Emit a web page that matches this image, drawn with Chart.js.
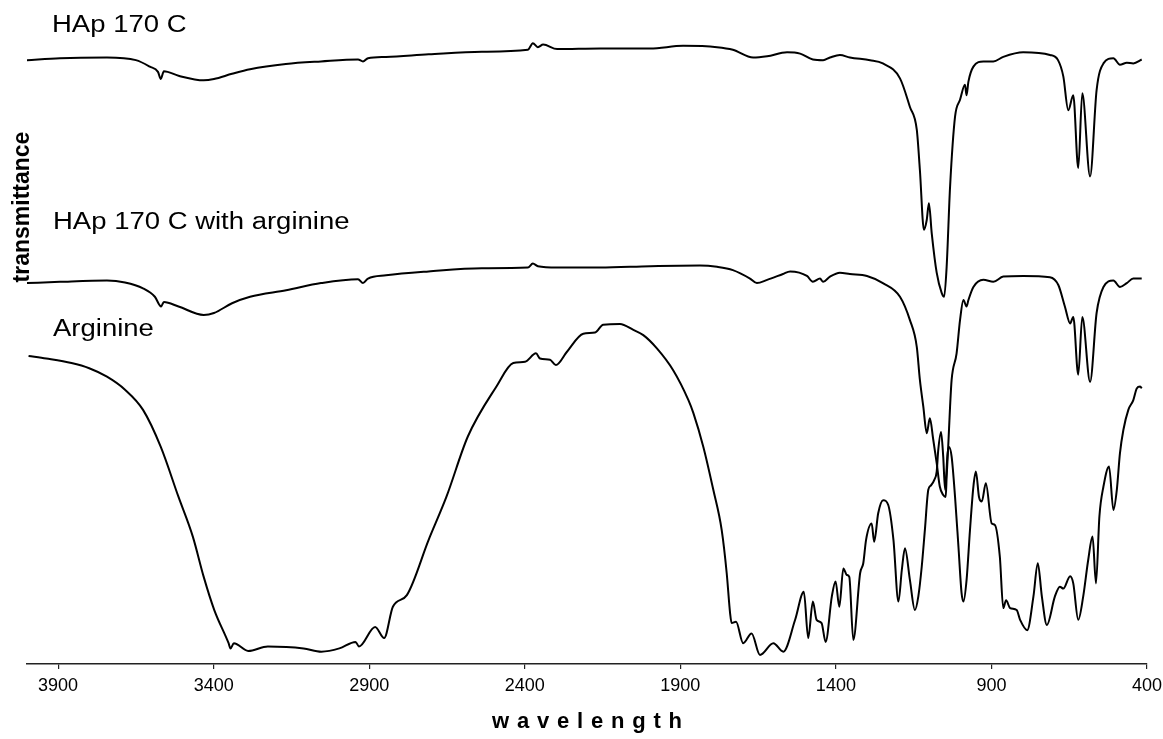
<!DOCTYPE html>
<html>
<head>
<meta charset="utf-8">
<script src="https://cdn.jsdelivr.net/npm/chart.js@4.4.1/dist/chart.umd.min.js"></script>
<style>
  html, body { margin: 0; padding: 0; background: #fff; }
  canvas { display: block; }
</style>
</head>
<body>
<canvas id="c" width="1163" height="739"></canvas>
<script>
// ---- data (wavenumber, transmittance in arbitrary offset units) ----
const seriesNames = ['HAp 170 C', 'HAp 170 C with arginine', 'Arginine'];
const tickValues = [3900, 3400, 2900, 2400, 1900, 1400, 900, 400];

const hap170Wn = [4000,3894,3743,3650,3605,3579,3570,3560,3513,3432,3399,3341,3283,3168,3055,2936,2920,2904,2846,2709,2538,2390,2374,2358,2341,2296,2158,1997,1891,1782,1731,1666,1621,1557,1515,1474,1441,1419,1387,1355,1290,1249,1194,1162,1140,1130,1117,1108,1101,1092,1076,1060,1052,1044,1033,1017,1001,985,980,974,958,926,894,862,798,712,686,669,653,637,621,608,583,562,540,508,487,465,444,417];
const hap170T = [92.9,93.2,93.3,92.9,91.9,91.1,90.0,91.2,90.5,89.8,90.0,90.8,91.5,92.3,92.7,93.0,92.7,93.2,93.4,93.8,94.2,94.5,95.5,94.9,95.3,94.6,94.7,94.7,95.1,94.9,94.5,93.3,93.5,94.1,93.9,93.0,92.9,93.3,93.7,93.3,92.9,92.4,90.1,85.7,82.2,76.0,66.8,68.3,70.9,66.3,60.2,57.1,56.5,61.1,73.4,84.2,86.8,89.1,87.5,89.6,91.9,92.7,92.7,93.4,94.1,93.7,92.9,90.4,85.2,87.5,76.3,87.8,75.0,88.3,92.4,93.2,92.2,92.5,92.4,93.0];

const hapArgWn = [4000,3894,3743,3685,3627,3589,3569,3560,3513,3432,3399,3341,3283,3167,3055,2936,2920,2904,2846,2709,2538,2390,2374,2358,2296,2158,1997,1837,1782,1731,1676,1654,1621,1570,1547,1493,1474,1451,1441,1419,1387,1355,1300,1249,1194,1162,1140,1130,1119,1108,1098,1087,1076,1066,1055,1047,1044,1039,1033,1028,1012,1001,990,980,974,958,926,894,862,798,712,685,664,647,637,621,608,583,562,540,508,487,465,444,417];
const hapArgT = [58.6,58.8,59.0,58.7,57.8,56.5,55.0,55.7,55.0,53.7,54.0,55.5,56.5,57.5,58.6,59.2,58.6,59.3,59.8,60.4,60.9,61.0,61.6,61.2,61.0,61.0,61.2,61.3,61.1,60.6,59.3,58.6,59.1,60.0,60.4,59.7,58.8,59.3,58.8,59.6,60.2,60.0,59.7,58.6,56.5,52.9,48.8,43.7,39.6,35.5,37.8,34.5,30.9,27.3,26.0,25.7,28.8,33.4,39.6,43.7,47.8,52.9,56.0,55.0,56.0,58.0,59.1,58.8,59.6,59.7,59.5,58.3,55.0,52.4,53.4,44.5,53.4,43.4,54.0,58.0,59.0,58.0,58.6,59.3,59.3];

const argWn = [3995,3938,3857,3800,3743,3685,3627,3570,3513,3467,3432,3398,3352,3346,3335,3289,3226,3111,3054,2996,2944,2933,2881,2852,2824,2779,2709,2652,2583,2491,2437,2399,2364,2351,2319,2300,2265,2212,2174,2148,2094,2051,2019,1976,1923,1874,1858,1826,1794,1767,1751,1740,1735,1721,1698,1671,1644,1601,1569,1531,1503,1489,1474,1462,1446,1433,1413,1401,1389,1376,1365,1357,1344,1322,1312,1303,1285,1277,1264,1248,1232,1215,1199,1188,1178,1162,1146,1135,1124,1114,1103,1094,1084,1076,1071,1062,1055,1049,1041,1036,1028,1017,1006,996,990,980,969,958,950,940,931,918,899,889,873,862,853,840,819,808,785,765,751,738,722,696,680,669,647,637,621,605,589,575,564,553,540,522,508,497,487,476,460,444,433,422,417];
const argT = [47.4,47.0,46.3,45.5,44.2,42.2,39.1,33.4,25.7,19.6,13.4,8.3,3.2,2.4,3.2,2.0,2.7,2.4,1.9,2.4,3.4,2.7,5.7,4.0,8.8,10.6,19.1,25.7,35.0,42.7,46.3,46.5,47.8,47.0,46.8,46.0,48.0,50.8,51.0,52.2,52.3,51.4,50.6,48.6,45.2,40.6,38.6,33.4,26.8,20.6,14.0,7.8,6.3,6.5,3.2,4.7,1.4,3.2,1.9,6.8,11.1,4.0,9.6,6.8,6.3,3.4,10.4,12.7,8.8,14.7,13.7,13.4,3.7,14.0,15.5,19.1,21.6,18.8,23.2,25.2,24.5,19.1,9.6,14.5,17.8,12.9,8.3,10.4,15.0,20.6,26.8,27.5,28.3,29.6,32.9,35.7,31.9,26.8,32.4,33.4,31.9,25.7,18.0,10.9,9.6,12.9,20.6,27.3,29.6,25.7,25.0,27.8,21.6,21.4,16.5,8.6,9.8,8.6,8.3,6.8,5.2,10.4,15.5,10.4,6.0,10.4,11.9,11.6,13.5,12.4,6.8,10.4,16.0,19.6,12.4,22.7,27.3,30.4,23.7,26.8,32.4,36.0,39.1,40.6,42.4,42.7,42.4];

// ---- helpers ----
function toPoints(xs, ys) {
  const n = Math.min(xs.length, ys.length);
  const pts = [];
  for (let i = 0; i < n; i++) pts.push({ x: xs[i], y: ys[i] });
  return pts;
}

const FONT = '"Liberation Sans", Arial, Helvetica, sans-serif';

// text placement (pixels)
const labelLayout = [
  { x: 52, y: 32 },
  { x: 53, y: 229 },
  { x: 53, y: 336 }
];

const textPlugin = {
  id: 'textPlugin',
  afterDraw(chart) {
    const ctx = chart.ctx;
    const area = chart.chartArea;
    ctx.save();
    ctx.fillStyle = '#000';
    // series labels
    ctx.font = '23.5px ' + FONT;
    ctx.textAlign = 'left';
    ctx.textBaseline = 'alphabetic';
    seriesNames.forEach((name, i) => {
      ctx.save();
      ctx.translate(labelLayout[i].x, labelLayout[i].y);
      ctx.scale(1.17, 1);
      ctx.fillText(name, 0, 0);
      ctx.restore();
    });
    // y axis title
    ctx.save();
    ctx.font = 'bold 23px ' + FONT;
    ctx.translate(29, 207);
    ctx.rotate(-Math.PI / 2);
    ctx.textAlign = 'center';
    ctx.fillText('transmittance', 0, 0);
    ctx.restore();
    // x axis title with letter spacing
    ctx.save();
    ctx.font = 'bold 22px ' + FONT;
    const ls = 7.8;
    ctx.letterSpacing = ls + 'px';
    ctx.textAlign = 'left';
    const txt = 'wavelength';
    const w = ctx.measureText(txt).width;
    const cx = (area.left + area.right) / 2;
    ctx.fillText(txt, cx - (w - ls) / 2, 728);
    ctx.restore();
    ctx.restore();
  }
};

function ds(name, xs, ys) {
  return {
    label: name,
    data: toPoints(xs, ys),
    borderColor: '#000',
    borderWidth: 2,
    pointRadius: 0,
    fill: false,
    cubicInterpolationMode: 'monotone'
  };
}

new Chart(document.getElementById('c'), {
  type: 'line',
  data: {
    datasets: [
      ds(seriesNames[0], hap170Wn, hap170T),
      ds(seriesNames[1], hapArgWn, hapArgT),
      ds(seriesNames[2], argWn, argT)
    ]
  },
  options: {
    responsive: false,
    animation: false,
    devicePixelRatio: 1,
    layout: { padding: { top: 14, left: 27, right: 16, bottom: 0 } },
    plugins: { legend: { display: false }, tooltip: { enabled: false }, title: { display: false } },
    scales: {
      x: {
        type: 'linear',
        reverse: true,
        min: 400,
        max: 4000,
        afterBuildTicks: (s) => { s.ticks = tickValues.map(v => ({ value: v })); },
        afterFit: (s) => { s.height = 75; s.paddingLeft = 0; s.paddingRight = 0; },
        border: { display: true, color: '#222', width: 1.5 },
        grid: { display: true, drawOnChartArea: false, drawTicks: true, tickLength: 5, color: '#222', lineWidth: 1.2 },
        ticks: {
          autoSkip: false,
          maxRotation: 0,
          padding: 6,
          color: '#000',
          font: { family: FONT, size: 18 },
          callback: (v) => String(v)
        },
        title: { display: false }
      },
      y: {
        display: false,
        min: 0,
        max: 100
      }
    }
  },
  plugins: [textPlugin]
});
</script>
</body>
</html>
